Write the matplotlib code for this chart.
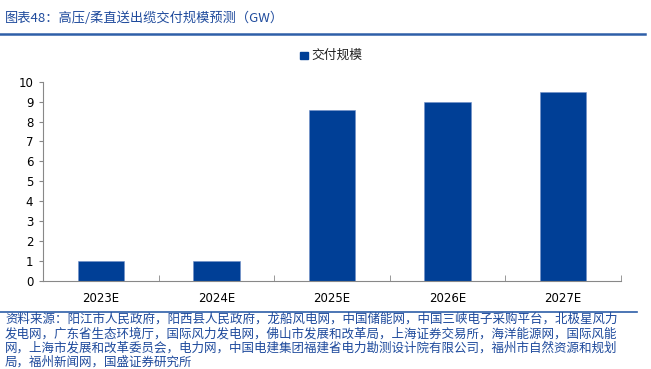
import numpy as np
import matplotlib.pyplot as plt
from matplotlib.lines import Line2D
from matplotlib.patches import Rectangle

plt.rcParams['font.family'] = ['Noto Sans CJK SC', 'DejaVu Sans']

years = ['2023E', '2024E', '2025E', '2026E', '2027E']
delivery = [1.0, 1.0, 8.6, 9.0, 9.5]
series_name = '交付规模'
title = '图表48：高压/柔直送出缆交付规模预测（GW）'
source_lines = [
    '资料来源：阳江市人民政府，阳西县人民政府，龙船风电网，中国储能网，中国三峡电子采购平台，北极星风力',
    '发电网，广东省生态环境厅，国际风力发电网，佛山市发展和改革局，上海证券交易所，海洋能源网，国际风能',
    '网，上海市发展和改革委员会，电力网，中国电建集团福建省电力勘测设计院有限公司，福州市自然资源和规划',
    '局，福州新闻网，国盛证券研究所',
]

bar_color = '#003F96'
text_blue = '#1E4A9C'
line_blue = '#2E5FA8'

W, H = 651, 369
fig = plt.figure(figsize=(W / 100, H / 100), dpi=100)

def fx(px):
    return px / W

def fy(py):
    return 1 - py / H

ax = fig.add_axes([fx(43), fy(281), fx(621) - fx(43), fy(81.7) - fy(281)])
x = np.arange(len(years))
ax.bar(x, delivery, width=0.4, color=bar_color, edgecolor='#6F8FC8', linewidth=0.4)
ax.set_xlim(-0.5, len(years) - 0.5)
ax.set_ylim(0, 10)
ax.set_yticks(range(0, 11))
ax.set_xticks(x)
ax.set_xticklabels(years)
ax.set_xticks(np.arange(len(years) + 1) - 0.5, minor=True)
ax.tick_params(axis='x', which='major', length=0, pad=8, labelsize=8.5)
ax.tick_params(axis='x', which='minor', direction='in', length=4, color='#888888')
ax.tick_params(axis='y', direction='out', length=3, color='#888888', labelsize=8.5, pad=4)
for lab in ax.get_xticklabels() + ax.get_yticklabels():
    lab.set_fontfamily('DejaVu Sans')
for s in ['top', 'right']:
    ax.spines[s].set_visible(False)
for s in ['left', 'bottom']:
    ax.spines[s].set_color('#888888')
    ax.spines[s].set_linewidth(0.8)

# legend
fig.patches.append(Rectangle((fx(300), fy(59)), fx(7.7), fy(51.7) - fy(59),
                             transform=fig.transFigure, color=bar_color))
fig.text(fx(311), fy(55), series_name, fontsize=9.2, va='center', ha='left', color='#222222')

# title and rules
fig.text(fx(5), fy(18), title, fontsize=9.5, va='center', ha='left', color=text_blue)
fig.add_artist(Line2D([0, fx(645)], [fy(34), fy(34)], color=line_blue, lw=1.8))
fig.add_artist(Line2D([0, fx(637)], [fy(312), fy(312)], color=line_blue, lw=1.2))

for i, line in enumerate(source_lines):
    fig.text(fx(5), fy(319.5 + i * 14.2), line, fontsize=9.0, va='center', ha='left', color=text_blue)

fig.savefig('out.png', dpi=100)
